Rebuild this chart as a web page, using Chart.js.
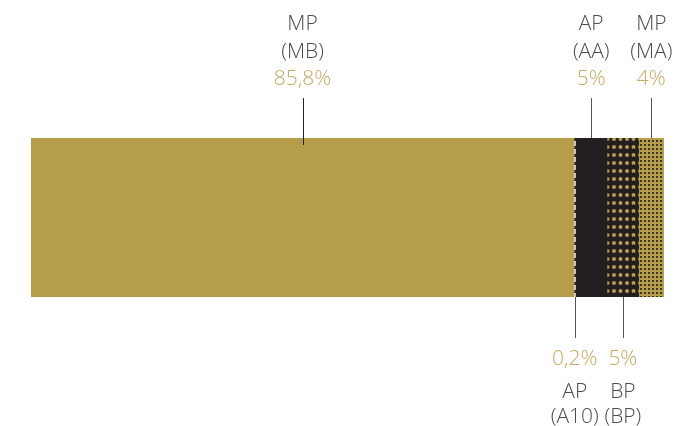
<!DOCTYPE html>
<html>
<head>
<meta charset="utf-8">
<script src="https://cdn.jsdelivr.net/npm/chart.js@4/dist/chart.umd.min.js"></script>
<style>
  html, body { margin: 0; padding: 0; background: #ffffff; }
  #wrap { width: 674px; height: 426px; position: relative; }
</style>
</head>
<body>
<div id="wrap"><canvas id="c" width="674" height="426"></canvas></div>
<script>
// ---- data ----
const codes = ["MP", "AP", "AP", "BP", "MP"];
const subCodes = ["(MB)", "(A10)", "(AA)", "(BP)", "(MA)"];
const values = [85.8, 0.2, 5, 5, 4];
const valueLabels = ["85,8%", "0,2%", "5%", "5%", "4%"];
const labelSides = ["top", "bottom", "top", "bottom", "top"];

// ---- styles ----
const GOLD = "#b69d4b";
const DARK = "#231f20";
const PCT = "#c5a964";
const TXT = "#4d4d4d";

function makePattern(w, h, draw) {
  const cv = document.createElement("canvas");
  cv.width = w; cv.height = h;
  const g = cv.getContext("2d");
  draw(g);
  return g.createPattern(cv, "repeat");
}
const patA10 = makePattern(4, 8, g => {
  g.fillStyle = "#ffffff"; g.fillRect(0, 0, 4, 8);
  g.fillStyle = DARK; g.fillRect(1, 2, 3, 3);
});
const patBP = makePattern(13, 8, g => {
  g.fillStyle = DARK; g.fillRect(0, 0, 13, 8);
  g.fillStyle = GOLD;
  g.beginPath(); g.arc(3, 3, 2, 0, Math.PI * 2); g.fill();
  g.beginPath(); g.arc(9.5, 3, 2, 0, Math.PI * 2); g.fill();
});
const patMA = makePattern(4, 4, g => {
  g.fillStyle = GOLD; g.fillRect(0, 0, 4, 4);
  g.fillStyle = "#3d3322"; g.fillRect(0, 0, 2, 2);
});
const fills = [GOLD, patA10, DARK, patBP, patMA];

const datasets = values.map((v, i) => ({
  label: codes[i] + " " + subCodes[i],
  data: [v],
  backgroundColor: fills[i],
  borderWidth: 0,
  barPercentage: 1,
  categoryPercentage: 1
}));

const FONT = '300 21px "Open Sans", "Noto Sans", sans-serif';

const labelPlugin = {
  id: "labels",
  afterDatasetsDraw(chart) {
    const ctx = chart.ctx;
    const xs = chart.scales.x;
    const area = chart.chartArea;
    let cum = 0;
    ctx.save();
    ctx.font = FONT;
    ctx.textAlign = "center";
    ctx.textBaseline = "middle";
    values.forEach((v, i) => {
      const mid = xs.getPixelForValue(cum + v / 2);
      cum += v;
      const x = Math.round(mid) + 0.5;
      ctx.strokeStyle = i === 0 ? "#222" : "#555";
      ctx.lineWidth = 1;
      ctx.beginPath();
      if (labelSides[i] === "top") {
        ctx.moveTo(x, area.top - 40);
        ctx.lineTo(x, area.top + (i === 0 ? 7 : 0));
        ctx.stroke();
        ctx.fillStyle = TXT;
        ctx.fillText(codes[i], mid, area.top - 113.5);
        ctx.fillText(subCodes[i], mid, area.top - 86);
        ctx.fillStyle = PCT;
        ctx.fillText(valueLabels[i], mid, area.top - 59);
      } else {
        ctx.moveTo(x, area.bottom);
        ctx.lineTo(x, area.bottom + 41);
        ctx.stroke();
        ctx.fillStyle = PCT;
        ctx.fillText(valueLabels[i], mid, area.bottom + 62.5);
        ctx.fillStyle = TXT;
        ctx.fillText(codes[i], mid, area.bottom + 95);
        ctx.fillText(subCodes[i], mid, area.bottom + 120.5);
      }
    });
    ctx.restore();
  }
};

new Chart(document.getElementById("c"), {
  type: "bar",
  data: { labels: ["share"], datasets },
  options: {
    indexAxis: "y",
    responsive: false,
    animation: false,
    layout: { padding: { left: 31, right: 10, top: 138, bottom: 129 } },
    scales: {
      x: { stacked: true, min: 0, max: 100, display: false },
      y: { stacked: true, display: false }
    },
    plugins: { legend: { display: false }, tooltip: { enabled: false } }
  },
  plugins: [labelPlugin]
});
</script>
</body>
</html>
